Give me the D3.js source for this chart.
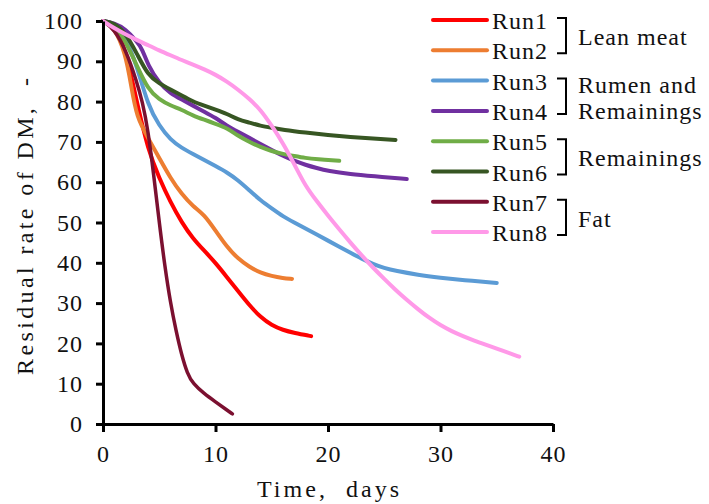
<!DOCTYPE html>
<html>
<head>
<meta charset="utf-8">
<script src="https://cdn.jsdelivr.net/npm/d3@7"></script>
<style>
  body { margin: 0; background: #fff; }
  text { font-family: "Liberation Serif", "DejaVu Serif", serif; fill: #111; letter-spacing: 1px; }
</style>
</head>
<body>
<script>
// Data: time (days) and residual rate of DM
var run1T = [0, 1, 2, 3, 4, 5, 6, 7, 8, 9, 10, 11, 12, 13, 14, 15, 16, 17, 18.5];
var run1V = [100, 99, 93, 80, 68, 61, 55, 50, 46, 43, 40, 36.5, 33, 29.5, 26.5, 24.5, 23.3, 22.6, 21.8];

var run2T = [0, 1, 2, 2.5, 3, 4, 5, 6, 7, 8, 9, 10, 11, 12, 13, 14, 15, 16, 16.8];
var run2V = [100, 98.5, 92, 84, 76, 71, 66, 61, 57, 54, 52, 48, 44, 41, 39, 37.5, 36.7, 36.2, 36];

var run3T = [0, 1, 2, 3, 4, 5, 6, 7, 8, 9, 10, 11, 12, 13, 14, 15, 16, 17, 18, 19, 20, 21, 22, 23, 24, 25, 26, 28, 30, 32, 35];
var run3V = [100, 99, 96, 89, 79, 74, 70.5, 68.5, 67, 65.5, 64, 62.5, 60.5, 58, 55.5, 53.5, 51.5, 50, 48.5, 47, 45.5, 44, 42.5, 41, 39.7, 38.7, 38, 37, 36.3, 35.7, 35];

var run4T = [0, 1, 2, 3, 3.5, 4, 5, 6, 7, 8, 9, 10, 11, 12, 13, 14, 15, 16, 17, 18, 19, 20, 22, 24, 27];
var run4V = [100, 99.5, 98, 95, 93, 89, 84.5, 82, 80.5, 79, 77.5, 76, 74, 72.5, 71, 69.5, 68, 66.5, 65.3, 64.3, 63.5, 62.8, 62, 61.5, 60.8];

var run5T = [0, 1, 2, 3, 4, 5, 6, 7, 8, 9, 10, 11, 12, 13, 14, 15, 16, 17, 18, 19, 21];
var run5V = [100, 99, 95, 89, 83, 80.5, 79, 78, 76.5, 75.5, 74.5, 73.5, 71.5, 70, 68.7, 67.7, 67, 66.5, 66, 65.7, 65.3];

var run6T = [0, 1, 2, 3, 4, 5, 6, 7, 8, 9, 10, 11, 12, 13, 14, 15, 16, 18, 20, 22, 24, 26];
var run6V = [100, 99.5, 97, 92, 86.5, 84.5, 83, 81.5, 80, 79, 78, 77, 75.5, 74.8, 74, 73.5, 73, 72.3, 71.7, 71.2, 70.8, 70.5];

var run7T = [0, 1, 2, 3, 3.5, 4, 4.5, 5, 5.5, 6, 6.5, 7, 7.5, 8, 9, 10, 11, 11.5];
var run7V = [100, 98, 93, 85, 80, 73, 62, 50, 39, 30, 23, 17, 12.5, 10, 7.5, 5.5, 3.5, 2.5];

var run8T = [0, 1, 2, 3, 4, 5, 6, 7, 8, 9, 10, 11, 12, 13, 14, 15, 16, 17, 18, 19, 20, 21, 22, 23, 24, 25, 26, 27, 28, 29, 30, 31, 32, 33, 34, 35, 36, 37];
var run8V = [100, 98.2, 96.7, 95.3, 94, 92.7, 91.5, 90.3, 89.2, 88, 86.7, 85, 83, 80.7, 78, 74, 69.7, 64.5, 59, 55.3, 51.7, 48.3, 45, 41.8, 38.8, 36, 33.3, 30.8, 28.5, 26.3, 24.5, 23, 21.8, 20.7, 19.7, 18.7, 17.7, 16.7];

var runNames = ["Run1", "Run2", "Run3", "Run4", "Run5", "Run6", "Run7", "Run8"];
var runColors = ["#ff0000", "#ed7d31", "#5b9bd5", "#7030a0", "#70ad47", "#375623", "#7b1030", "#ff99e8"];
var groupLabels = [["Lean meat"], ["Rumen and", "Remainings"], ["Remainings"], ["Fat"]];

var xTicks = [0, 10, 20, 30, 40];
var yTicks = [0, 10, 20, 30, 40, 50, 60, 70, 80, 90, 100];

var runs = [
  [run1T, run1V], [run2T, run2V], [run3T, run3V], [run4T, run4V],
  [run5T, run5V], [run6T, run6V], [run7T, run7V], [run8T, run8V]
].map(function (r, i) {
  return { name: runNames[i], color: runColors[i], pts: r[0].map(function (t, j) { return [t, r[1][j]]; }) };
});

// Set the dimensions and margins of the graph
var margin = { top: 21, right: 156, bottom: 80, left: 103 },
    width = 709 - margin.left - margin.right,
    height = 504 - margin.top - margin.bottom;

var root = d3.select("body")
    .append("svg")
    .attr("width", 709)
    .attr("height", 504);

var svg = root.append("g")
    .attr("transform", "translate(" + margin.left + "," + margin.top + ")");

// Scales
var x = d3.scaleLinear().domain([0, 40]).range([0, width]);
var y = d3.scaleLinear().domain([0, 100]).range([height, 0]);

// Lines
var line = d3.line()
    .x(function (d) { return x(d[0]); })
    .y(function (d) { return y(d[1]); })
    .curve(d3.curveBasis);

svg.selectAll(".run")
    .data(runs)
    .enter().append("path")
    .attr("class", "run")
    .attr("fill", "none")
    .attr("stroke", function (d) { return d.color; })
    .attr("stroke-width", function (d) { return d.name === "Run7" ? 3.5 : 4; })
    .attr("stroke-linecap", "round")
    .attr("d", function (d) { return line(d.pts); });

// X axis
var xAxis = svg.append("g")
    .attr("transform", "translate(0," + height + ")")
    .call(d3.axisBottom(x).tickValues(xTicks).tickSize(8).tickSizeOuter(0).tickPadding(13));

// Y axis
var yAxis = svg.append("g")
    .call(d3.axisLeft(y).tickValues(yTicks).tickSize(7).tickSizeOuter(0).tickPadding(13));

[xAxis, yAxis].forEach(function (a) {
  a.select(".domain").attr("stroke", "#000").attr("stroke-width", 3);
  a.selectAll(".tick line").attr("stroke", "#000").attr("stroke-width", 3);
  a.selectAll(".tick text")
    .style("font-family", "Liberation Serif, serif")
    .style("font-size", "24px")
    .attr("fill", "#111");
});

// Axis labels
svg.append("text")
    .attr("x", 154)
    .attr("y", height + 73)
    .style("font-size", "24px")
    .attr("xml:space", "preserve")
    .attr("textLength", 143)
    .attr("lengthAdjust", "spacing")
    .text("Time,  days");

svg.append("text")
    .attr("transform", "translate(-70," + (375 - margin.top) + ") rotate(-90)")
    .style("font-size", "24px")
    .attr("xml:space", "preserve")
    .attr("textLength", 298)
    .attr("lengthAdjust", "spacing")
    .text("Residual rate of DM,  -");

// Legend
var legend = root.selectAll(".legend")
    .data(runs)
    .enter().append("g")
    .attr("class", "legend")
    .attr("transform", function (d, i) { return "translate(433," + (20 + i * 30.3) + ")"; });

legend.append("line")
    .attr("x1", 0).attr("x2", 54)
    .attr("stroke", function (d) { return d.color; })
    .attr("stroke-width", 4)
    .attr("stroke-linecap", "round");

legend.append("text")
    .attr("x", 59)
    .attr("y", 9)
    .style("font-size", "24px")
    .text(function (d) { return d.name; });

// Group brackets
var groups = root.selectAll(".group")
    .data(groupLabels)
    .enter().append("g")
    .attr("class", "group")
    .attr("transform", function (d, i) { return "translate(0," + (20 + i * 2 * 30.3) + ")"; });

groups.append("path")
    .attr("fill", "none")
    .attr("stroke", "#000")
    .attr("stroke-width", 2)
    .attr("d", "M557,-2H566V33.3H557");

groups.append("text")
    .attr("x", 578)
    .attr("y", 0)
    .style("font-size", "24px")
    .selectAll("tspan")
    .data(function (d) { return d; })
    .enter().append("tspan")
    .attr("x", 578)
    .attr("dy", function (d, i, n) { return i === 0 ? (n.length > 1 ? 12 : 25) : 26; })
    .text(function (d) { return d; });
</script>
</body>
</html>
